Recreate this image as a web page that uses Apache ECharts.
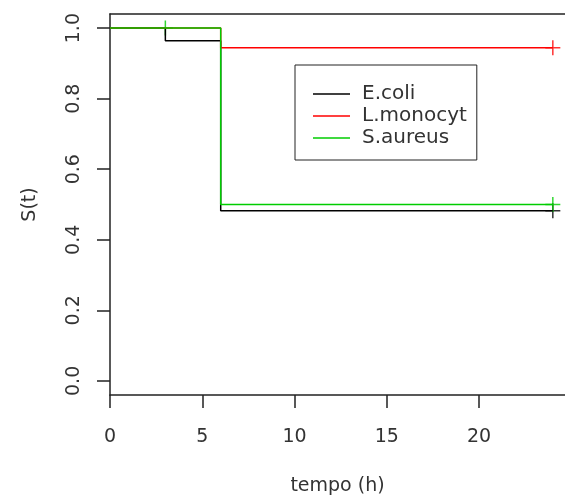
<!DOCTYPE html>
<html>
<head>
<meta charset="utf-8">
<script src="https://cdn.jsdelivr.net/npm/echarts@6/dist/echarts.min.js"></script>
<style>
  html, body { margin: 0; padding: 0; background: #fff; }
  #chart { width: 565px; height: 501px; }
</style>
</head>
<body>
<div id="chart"></div>
<script>
  // tick labels
  const xTicks = [0, 5, 10, 15, 20];
  const yTicks = [0, 0.2, 0.4, 0.6, 0.8, 1.0];

  // groups
  const groups = ['E.coli', 'L.monocyt', 'S.aureus'];
  const colors = ['#000000', '#ff0000', '#00cd00'];

  // Kaplan-Meier steps (time, survival)
  const ecoliTime = [0, 3, 6, 24];
  const ecoliSurv = [1.0, 0.964, 0.482, 0.482];
  const listeriaTime = [0, 6, 24];
  const listeriaSurv = [1.0, 0.944, 0.944];
  const aureusTime = [0, 6, 24];
  const aureusSurv = [1.0, 0.5, 0.5];

  // censored observations
  const ecoliCensTime = [24];
  const ecoliCensSurv = [0.482];
  const listeriaCensTime = [24];
  const listeriaCensSurv = [0.944];
  const aureusCensTime = [3, 24];
  const aureusCensSurv = [1.0, 0.5];

  const zip = (a, b) => a.map((v, i) => [v, b[i]]);
  const fontFamily = 'DejaVu Sans, sans-serif';
  const textColor = '#333';
  const plusPath = 'path://M5,0L5,10M0,5L10,5';

  const stepSeries = (name, t, s, color) => ({
    name: name,
    type: 'line',
    step: 'end',
    data: zip(t, s),
    showSymbol: false,
    symbol: 'none',
    lineStyle: { color: color, width: 1.5 },
    itemStyle: { color: color },
    silent: true
  });

  const censSeries = (name, t, s, color) => ({
    name: name + ' (cens)',
    type: 'scatter',
    data: zip(t, s),
    symbol: plusPath,
    symbolSize: 15,
    itemStyle: { color: 'none', borderColor: color, borderWidth: 1.5 },
    silent: true
  });

  const chart = echarts.init(document.getElementById('chart'));

  const options = {
    animation: false,
    backgroundColor: '#fff',
    textStyle: { fontFamily: fontFamily },
    grid: { left: 110, right: 0, top: 14, bottom: 104 },
    legend: {
      data: groups,
      orient: 'vertical',
      left: 295,
      top: 65,
      // line sample plus a blank gap before the text
      icon: 'path://M0,0L37,0L37,1.5L0,1.5ZM44,0',
      itemWidth: 44,
      itemHeight: 1.5,
      itemGap: 2,
      padding: [19, 10, 12, 18],
      borderColor: '#222',
      borderWidth: 1,
      selectedMode: false,
      textStyle: { fontFamily: fontFamily, fontSize: 20, color: textColor, lineHeight: 20 }
    },
    xAxis: [
      {
        type: 'value',
        min: 0,
        max: 24.66,
        name: 'tempo (h)',
        nameLocation: 'middle',
        nameGap: 82,
        nameTextStyle: { fontFamily: fontFamily, fontSize: 19, color: textColor },
        axisLine: { show: true, onZero: false, lineStyle: { color: '#222', width: 1.5 } },
        axisTick: { show: true, customValues: xTicks, length: 13, lineStyle: { color: '#222', width: 1.5 } },
        axisLabel: { customValues: xTicks, margin: 33, fontSize: 19, color: textColor, fontFamily: fontFamily },
        splitLine: { show: false }
      },
      {
        type: 'value',
        position: 'top',
        min: 0,
        max: 24.66,
        axisLine: { show: true, onZero: false, lineStyle: { color: '#222', width: 1.5 } },
        axisTick: { show: false },
        axisLabel: { show: false },
        splitLine: { show: false }
      }
    ],
    yAxis: {
      type: 'value',
      min: -0.04,
      max: 1.04,
      name: 'S(t)',
      nameLocation: 'middle',
      nameGap: 70,
      nameRotate: 90,
      nameTextStyle: { fontFamily: fontFamily, fontSize: 19, color: textColor },
      axisLine: { show: true, onZero: false, lineStyle: { color: '#222', width: 1.5 } },
      axisTick: { show: true, customValues: yTicks, length: 13, lineStyle: { color: '#222', width: 1.5 } },
      axisLabel: {
        customValues: yTicks,
        rotate: 90,
        margin: 26,
        fontSize: 19,
        color: textColor,
        fontFamily: fontFamily,
        formatter: v => v.toFixed(1)
      },
      splitLine: { show: false }
    },
    series: [
      stepSeries(groups[0], ecoliTime, ecoliSurv, colors[0]),
      stepSeries(groups[1], listeriaTime, listeriaSurv, colors[1]),
      stepSeries(groups[2], aureusTime, aureusSurv, colors[2]),
      censSeries(groups[0], ecoliCensTime, ecoliCensSurv, colors[0]),
      censSeries(groups[1], listeriaCensTime, listeriaCensSurv, colors[1]),
      censSeries(groups[2], aureusCensTime, aureusCensSurv, colors[2])
    ]
  };

  chart.setOption(options);
</script>
</body>
</html>
